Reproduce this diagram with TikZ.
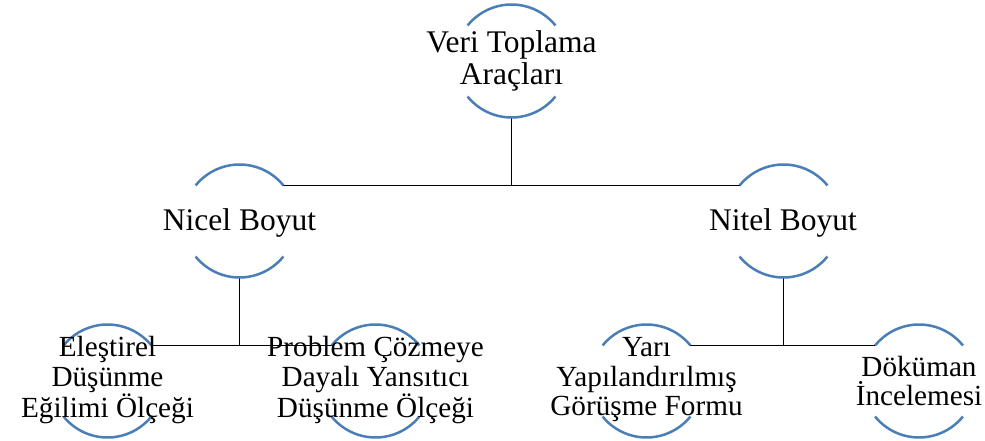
\documentclass[tikz,border=0pt]{standalone}
\usepackage{fontspec}
\setmainfont{Liberation Serif}
\definecolor{arcblue}{RGB}{74,126,183}
\begin{document}
\begin{tikzpicture}[x=1pt,y=1pt,
  ring/.style={circle, minimum size=113pt, inner sep=0pt, outer sep=0pt},
  bigtxt/.style={align=center, inner sep=0pt, font=\fontsize{31.5}{32.5}\selectfont},
  smalltxt/.style={align=center, inner sep=0pt, font=\fontsize{29.2}{29.5}\selectfont},
  arcline/.style={draw=arcblue, line width=2.5pt},
  link/.style={draw=black, line width=1.6pt}]
\useasboundingbox (0,0) rectangle (985,-441);

% circle frames
\node[ring] (top)   at (511.5,-61)  {};
\node[ring] (nicel) at (239.5,-221) {};
\node[ring] (nitel) at (783.5,-221) {};
\node[ring] (ed)    at (107.5,-381) {};
\node[ring] (pc)    at (375.5,-381) {};
\node[ring] (yy)    at (646.5,-381) {};
\node[ring] (di)    at (919,-381)   {};

% connectors
\draw[link] (top.south) -- (top.south |- nicel.39);
\draw[link] (nicel.39) -- (nitel.141);
\draw[link] (nicel.south) -- (nicel.south |- ed.39);
\draw[link] (ed.39) -- (pc.141);
\draw[link] (nitel.south) -- (nitel.south |- yy.39);
\draw[link] (yy.39) -- (di.141);

% upper and lower arcs of each circle
\foreach \n in {top,nicel,nitel,ed,pc,yy,di} {
  \draw[arcline] (\n.39) arc[start angle=39, end angle=141, radius=56.5pt];
  \draw[arcline] (\n.219) arc[start angle=219, end angle=321, radius=56.5pt];
}

% labels
\node[bigtxt]   (ttop)   at (511.5,-61)  {Veri Toplama\\Araçları};
\node[bigtxt]   (tnicel) at (239.5,-223) {Nicel Boyut};
\node[bigtxt]   (tnitel) at (783,-223)   {Nitel Boyut};
\node[smalltxt] (ted)    at (107.5,-380) {Eleştirel\\Düşünme\\Eğilimi Ölçeği};
\node[smalltxt] (tpc)    at (375.5,-380) {Problem Çözmeye\\Dayalı Yansıtıcı\\Düşünme Ölçeği};
\node[smalltxt] (tyy)    at (646.5,-380) {Yarı\\Yapılandırılmış\\Görüşme Formu};
\node[smalltxt] (tdi)    at (919,-381)   {Döküman\\İncelemesi};
\end{tikzpicture}
\end{document}
